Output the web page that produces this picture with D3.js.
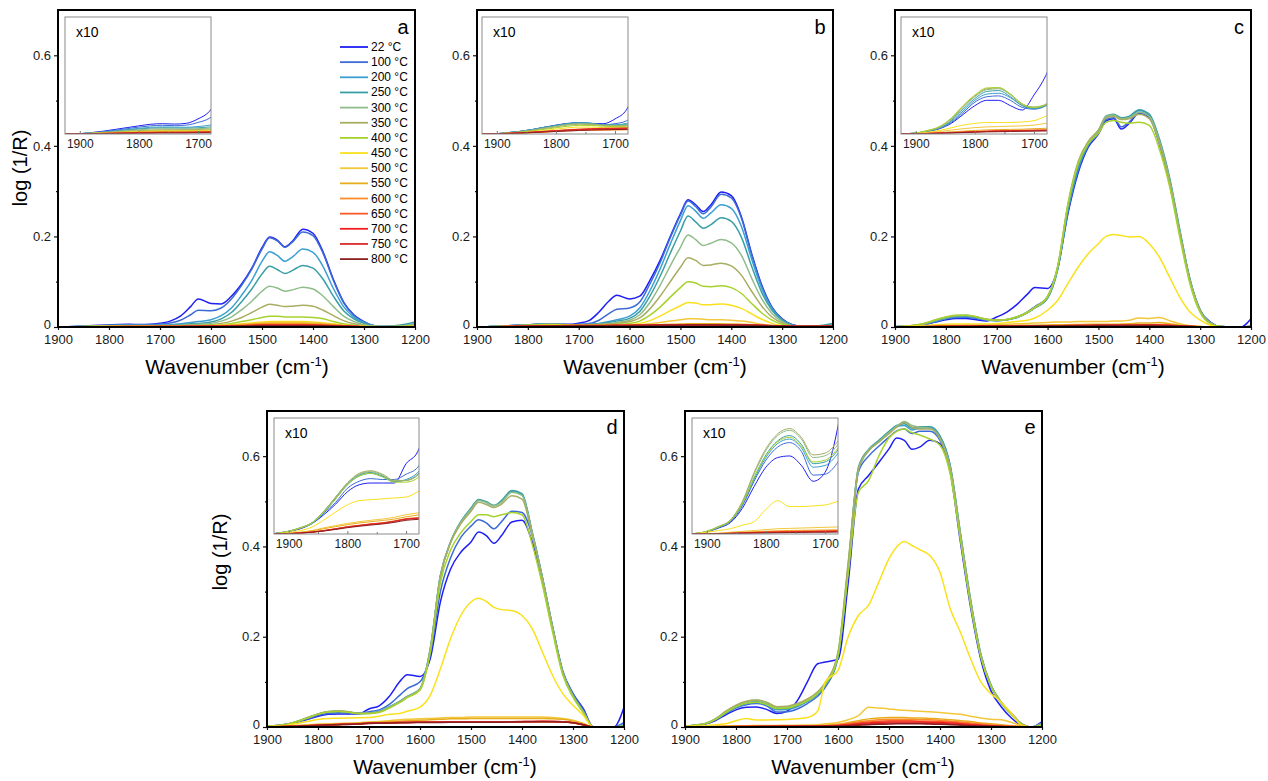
<!DOCTYPE html>
<html>
<head>
<meta charset="utf-8">
<script src="https://cdn.jsdelivr.net/npm/d3@7"></script>
<style>
  body { margin: 0; background: #fff; }
  text { font-family: Arial, "Liberation Sans", sans-serif; }
</style>
</head>
<body>
<svg id="chart" width="1268" height="781"></svg>
<script>
// wavenumber grid (cm-1) shared by every spectrum
const wavenumbers = [1930, 1900, 1880, 1860, 1840, 1820, 1800, 1780, 1760, 1740, 1720, 1700, 1680, 1660, 1640, 1625,
    1600, 1580, 1560, 1540, 1520, 1500, 1485, 1470, 1455, 1440, 1420, 1400, 1380, 1360, 1340, 1320, 1300, 1280, 1260, 1240, 1220, 1200];
const temperatures = ['22 °C', '100 °C', '200 °C', '250 °C', '300 °C', '350 °C', '400 °C', '450 °C',
    '500 °C', '550 °C', '600 °C', '650 °C', '700 °C', '750 °C', '800 °C'];
const seriesColors = ['#1f1ff5', '#3d6bd6', '#3b9fd2', '#3a9fa5', '#8fbd8a', '#a8ad62', '#a6d22e', '#f9e11d',
    '#f3c73a', '#e8ad1e', '#fb8c2a', '#fa5a2a', '#f21e1e', '#dc2a2a', '#8c1f1f'];

// panel a
const a22 = [0, .0002, .0008, .0016, .0026, .0036, .0046, .0055, .0058, .0056, .006, .0085, .013, .024, .045, .062, .052, .051, .068, .095, .13, .175, .199, .192, .177, .19, .216, .207, .165, .105, .055, .027, .012, .003, .001, .001, .002, .003];
const a100 = [0, .0002, .0007, .0013, .0021, .003, .0039, .0046, .0049, .0047, .005, .0065, .009, .015, .027, .037, .036, .042, .062, .092, .128, .172, .197, .19, .176, .188, .21, .202, .162, .103, .054, .026, .011, .003, .001, .001, .002, .003];
const a200 = [0, .0002, .0006, .0011, .0018, .0025, .0032, .0038, .004, .0039, .0038, .0042, .005, .007, .01, .012, .016, .025, .042, .07, .103, .145, .166, .158, .145, .155, .172, .165, .133, .085, .045, .022, .01, .003, .001, .002, .004, .007];
const a250 = [0, .0002, .0006, .001, .0016, .0022, .0028, .0033, .0035, .0034, .0033, .0035, .004, .005, .007, .008, .011, .018, .032, .056, .084, .117, .134, .127, .118, .125, .136, .13, .105, .068, .036, .018, .008, .002, .001, .003, .006, .011];
const a300 = [0, .0002, .0005, .0009, .0014, .0019, .0024, .0028, .003, .0029, .0028, .003, .0033, .004, .005, .006, .008, .013, .022, .038, .057, .079, .09, .086, .079, .082, .088, .084, .068, .045, .024, .012, .005, .002, .001, .001, .003, .006];
const a350 = [0, .0002, .0004, .0007, .0011, .0015, .0019, .0022, .0024, .0024, .0024, .0025, .0028, .003, .004, .004, .005, .008, .013, .021, .032, .044, .05, .048, .045, .046, .048, .046, .037, .025, .014, .007, .003, .001, .001, .001, .002, .004];
const a400 = [0, .0001, .0003, .0006, .0009, .0012, .0015, .0018, .0019, .0019, .0019, .002, .0022, .0025, .003, .003, .004, .005, .008, .012, .016, .021, .024, .024, .022, .022, .022, .021, .018, .012, .007, .004, .002, .001, 0, .001, .001, .002];
const a450 = [0, .0001, .0003, .0005, .0008, .001, .0013, .0015, .0016, .0016, .0016, .0017, .0018, .002, .002, .002, .003, .004, .005, .007, .009, .011, .012, .012, .012, .012, .012, .011, .009, .007, .004, .002, .001, 0, 0, 0, .001, .001];
const a500 = [0, .0001, .0003, .0005, .0007, .0009, .0012, .0014, .0015, .0015, .0015, .0016, .0017, .0018, .002, .002, .003, .003, .004, .006, .007, .009, .01, .01, .01, .01, .01, .009, .008, .006, .004, .002, .001, 0, 0, 0, 0, .001];
const a550 = [0, .0001, .0002, .0004, .0006, .0008, .001, .0012, .0013, .0013, .0013, .0014, .0015, .0016, .0018, .002, .002, .003, .004, .005, .006, .007, .008, .008, .008, .008, .008, .007, .006, .005, .003, .002, .001, 0, 0, 0, 0, 0];
const a600 = [0, .0001, .0002, .0004, .0005, .0007, .0009, .001, .0011, .0011, .0011, .0012, .0013, .0014, .0015, .0016, .0018, .002, .003, .004, .005, .006, .006, .006, .006, .006, .006, .005, .005, .004, .003, .002, .001, 0, 0, 0, 0, 0];
const a650 = [0, .0001, .0002, .0003, .0005, .0006, .0008, .0009, .001, .001, .001, .0011, .0012, .0013, .0014, .0015, .0017, .002, .0025, .003, .004, .0045, .005, .005, .005, .005, .005, .0045, .004, .003, .002, .0012, .0006, 0, 0, 0, 0, 0];
const a700 = [0, .0001, .0002, .0003, .0004, .0005, .0007, .0008, .0009, .0009, .0009, .001, .0011, .0012, .0013, .0014, .0015, .0018, .0022, .0027, .0032, .0038, .004, .004, .004, .004, .004, .0037, .0032, .0026, .0018, .001, .0005, 0, 0, 0, 0, 0];
const a750 = [0, .0001, .0002, .0003, .0004, .0005, .0006, .0007, .0008, .0008, .0008, .0009, .001, .0011, .0012, .0013, .0014, .0017, .002, .0025, .003, .0035, .0038, .0038, .0038, .0038, .0038, .0035, .003, .0025, .0018, .001, .0005, 0, 0, 0, 0, 0];
const a800 = [0, .0001, .0001, .0002, .0003, .0004, .0005, .0005, .0006, .0006, .0006, .0007, .0007, .0008, .0009, .001, .0011, .0013, .0016, .002, .0024, .0028, .003, .003, .003, .003, .003, .0028, .0025, .002, .0015, .001, .0005, 0, 0, 0, 0, 0];

// panel b
const b22 = [0, .0002, .0008, .0015, .0025, .0038, .005, .006, .0064, .006, .0058, .0085, .014, .033, .058, .07, .062, .068, .103, .147, .2, .25, .281, .27, .255, .27, .298, .29, .243, .162, .092, .044, .018, .005, .001, .001, .002, .004];
const b100 = [0, .0002, .0008, .0015, .0025, .0037, .0048, .0058, .0062, .0058, .0052, .0058, .0075, .015, .03, .039, .042, .055, .095, .142, .197, .247, .278, .266, .25, .265, .293, .285, .24, .16, .09, .043, .017, .005, .001, .001, .002, .004];
const b200 = [0, .0002, .0008, .0015, .0025, .0037, .0048, .0058, .0063, .006, .0052, .0052, .006, .008, .012, .016, .024, .042, .08, .128, .183, .235, .268, .256, .24, .252, .27, .262, .222, .15, .085, .041, .016, .004, .001, .001, .002, .005];
const b250 = [0, .0002, .0008, .0015, .0025, .0037, .0048, .0058, .0063, .006, .0052, .005, .0055, .007, .01, .013, .019, .034, .068, .112, .163, .212, .245, .232, .218, .226, .241, .233, .198, .134, .076, .037, .015, .004, .001, .002, .004, .008];
const b300 = [0, .0002, .0007, .0013, .0022, .0033, .0044, .0054, .0059, .0056, .005, .0048, .005, .006, .008, .01, .015, .027, .054, .092, .135, .176, .203, .193, .18, .185, .193, .186, .158, .108, .062, .03, .012, .003, .001, .001, .002, .004];
const b350 = [0, .0002, .0006, .0012, .002, .003, .004, .005, .0055, .0053, .0048, .0045, .0047, .005, .007, .008, .012, .02, .04, .068, .1, .132, .153, .147, .136, .137, .141, .135, .114, .079, .046, .022, .009, .002, .001, .001, .002, .003];
const b400 = [0, .0002, .0005, .001, .0017, .0026, .0035, .0044, .0049, .0048, .0044, .0042, .0043, .0045, .005, .006, .008, .013, .026, .044, .066, .087, .1, .097, .09, .089, .091, .087, .074, .052, .031, .015, .006, .002, .001, .001, .001, .002];
const b450 = [0, .0002, .0004, .0008, .0013, .002, .0028, .0035, .0039, .0039, .0036, .0035, .0036, .0038, .004, .004, .005, .008, .014, .024, .036, .047, .054, .053, .049, .049, .051, .048, .041, .029, .017, .008, .003, .001, 0, 0, .001, .001];
const b500 = [0, .0001, .0003, .0006, .001, .0015, .002, .0025, .0028, .0028, .0027, .0027, .0028, .003, .003, .003, .004, .005, .007, .01, .013, .016, .018, .018, .017, .016, .016, .015, .013, .01, .006, .003, .001, 0, 0, 0, 0, .001];
const b550 = [0, .0001, .0003, .0005, .0008, .0012, .0016, .002, .0023, .0024, .0023, .0024, .0025, .0026, .0028, .003, .003, .0035, .004, .005, .006, .0065, .007, .007, .007, .007, .007, .0065, .006, .005, .003, .002, .001, 0, 0, 0, 0, 0];
const b600 = [0, .0001, .0003, .0005, .0008, .0011, .0015, .0018, .002, .0022, .0022, .0023, .0024, .0025, .0027, .0028, .003, .0032, .0035, .004, .0045, .005, .005, .005, .005, .005, .005, .0048, .0045, .004, .003, .002, .001, 0, 0, 0, 0, 0];
const b650 = [0, .0001, .0003, .0006, .0009, .0013, .0017, .002, .0023, .0025, .0026, .0027, .0028, .003, .003, .0032, .0034, .0036, .0038, .004, .0042, .0045, .0046, .0046, .0046, .0046, .0046, .0045, .0043, .004, .0035, .0025, .0015, .0005, 0, 0, 0, .001];
const b700 = [0, .0002, .0004, .0007, .001, .0014, .0018, .0022, .0025, .0028, .003, .0031, .0032, .0034, .0035, .0036, .0037, .0038, .004, .0042, .0044, .0046, .0047, .0047, .0047, .0047, .0046, .0045, .0043, .004, .0036, .003, .0025, .002, .0015, .0015, .002, .0025];
const b750 = [0, .0002, .0004, .0007, .0011, .0015, .0019, .0023, .0027, .003, .0032, .0033, .0034, .0035, .0036, .0037, .0038, .004, .0042, .0044, .0046, .0048, .005, .005, .005, .005, .0049, .0047, .0045, .0042, .0038, .0032, .0026, .002, .0016, .0015, .0018, .0022];
const b800 = [0, .0001, .0003, .0005, .0008, .0011, .0014, .0017, .002, .0022, .0024, .0025, .0026, .0027, .0028, .0029, .003, .0032, .0034, .0036, .0038, .004, .0042, .0042, .0042, .0042, .0041, .004, .0038, .0035, .003, .0025, .002, .0015, .001, .001, .001, .0012];

// panel c
const c22 = [0, .0005, .0015, .003, .006, .011, .016, .019, .019, .016, .0135, .022, .033, .05, .072, .087, .085, .13, .25, .34, .397, .426, .455, .46, .437, .449, .472, .463, .404, .316, .206, .103, .037, .011, .001, 0, 0, .018];
const c100 = [0, .0005, .0015, .003, .0065, .012, .018, .021, .0215, .019, .015, .014, .016, .022, .033, .045, .066, .13, .255, .345, .4, .428, .458, .462, .442, .452, .474, .465, .407, .32, .208, .102, .036, .009, .001, 0, 0, .002];
const c200 = [0, .0005, .0016, .0033, .007, .013, .019, .0225, .023, .0205, .016, .0145, .016, .021, .031, .042, .064, .128, .258, .35, .402, .43, .462, .468, .46, .462, .478, .468, .41, .325, .212, .104, .037, .009, .001, 0, 0, .001];
const c250 = [0, .0005, .0017, .0035, .0075, .014, .02, .024, .0245, .021, .016, .0145, .016, .021, .031, .042, .064, .128, .26, .352, .404, .432, .466, .47, .462, .465, .48, .47, .415, .33, .215, .106, .038, .01, .001, 0, 0, .001];
const c300 = [0, .0005, .0018, .0037, .008, .015, .021, .025, .0255, .022, .0165, .015, .0165, .022, .032, .043, .066, .132, .268, .36, .408, .434, .465, .468, .46, .462, .474, .465, .41, .325, .21, .104, .037, .009, .001, 0, 0, .001];
const c350 = [0, .0005, .0019, .004, .0085, .0155, .0215, .0255, .026, .0225, .017, .0152, .0168, .0225, .033, .044, .068, .135, .272, .365, .41, .435, .462, .465, .458, .46, .47, .46, .405, .32, .206, .1, .035, .008, .001, 0, 0, .001];
const c400 = [0, .0006, .002, .0042, .009, .016, .022, .026, .0262, .0225, .017, .015, .0165, .022, .032, .043, .067, .134, .27, .36, .405, .428, .452, .456, .452, .45, .452, .445, .392, .31, .198, .095, .032, .007, .001, 0, 0, .001];
const c450 = [0, .0003, .001, .002, .0035, .005, .006, .0065, .0065, .0065, .0068, .0075, .01, .012, .015, .02, .037, .059, .096, .132, .162, .184, .2, .204, .202, .199, .2, .184, .154, .11, .066, .033, .015, .004, 0, 0, 0, 0];
const c500 = [0, .0002, .0007, .0014, .0022, .003, .0036, .004, .0042, .0044, .0046, .005, .006, .007, .008, .009, .01, .011, .011, .012, .012, .012, .012, .013, .013, .015, .02, .019, .021, .014, .007, .003, .001, 0, 0, 0, 0, 0];
const c550 = [0, .0001, .0004, .0008, .0012, .0016, .002, .0023, .0025, .0026, .0027, .003, .0032, .0035, .004, .004, .0045, .005, .005, .0055, .006, .006, .006, .006, .0065, .007, .009, .009, .01, .007, .004, .002, .001, 0, 0, 0, 0, 0];
const c600 = [0, .0001, .0003, .0006, .0009, .0012, .0015, .0017, .0019, .002, .0021, .0022, .0023, .0025, .0027, .0028, .003, .0032, .0034, .0036, .0038, .004, .004, .004, .004, .004, .0045, .005, .0055, .0045, .003, .0015, .0007, 0, 0, 0, 0, 0];
const c650 = [0, .0001, .0003, .0005, .0008, .001, .0013, .0015, .0017, .0018, .0019, .002, .0021, .0022, .0024, .0025, .0027, .0029, .0031, .0033, .0035, .0036, .0037, .0037, .0037, .0037, .004, .0042, .0045, .0038, .0026, .0014, .0006, 0, 0, 0, 0, 0];
const c700 = [0, .0001, .0003, .0005, .0007, .0009, .0012, .0014, .0016, .0017, .0018, .0019, .002, .0021, .0022, .0023, .0025, .0027, .0029, .0031, .0033, .0034, .0035, .0035, .0035, .0035, .0036, .0037, .0038, .0033, .0024, .0013, .0005, 0, 0, 0, 0, 0];
const c750 = [0, .0001, .0003, .0005, .0008, .001, .0013, .0015, .0017, .0019, .002, .0021, .0022, .0023, .0024, .0025, .0027, .0029, .0031, .0033, .0035, .0036, .0037, .0037, .0037, .0037, .0037, .0037, .0036, .0032, .0024, .0014, .0006, 0, 0, 0, 0, 0];
const c800 = [0, .0001, .0002, .0004, .0006, .0008, .001, .0012, .0013, .0014, .0015, .0016, .0017, .0018, .0019, .002, .0022, .0024, .0026, .0028, .003, .0031, .0032, .0032, .0032, .0032, .0032, .0031, .003, .0027, .002, .0012, .0005, 0, 0, 0, 0, 0];

// panel d
const d22 = [0, .0015, .003, .006, .011, .017, .024, .028, .029, .029, .029, .04, .047, .068, .1, .116, .112, .151, .277, .35, .387, .41, .432, .424, .407, .424, .454, .458, .41, .321, .218, .122, .074, .041, 0, 0, 0, .044];
const d100 = [0, .0015, .0032, .0065, .012, .018, .026, .03, .0315, .031, .031, .034, .038, .05, .07, .085, .1, .16, .3, .375, .42, .445, .459, .452, .439, .455, .478, .475, .425, .33, .222, .124, .074, .038, 0, 0, 0, .01];
const d200 = [0, .0015, .0034, .006, .012, .02, .028, .033, .0345, .0325, .0297, .031, .035, .045, .057, .068, .085, .173, .336, .41, .454, .483, .503, .498, .49, .5, .522, .515, .43, .33, .22, .12, .07, .035, 0, 0, 0, .005];
const d250 = [0, .0015, .0035, .0062, .0125, .0205, .0285, .0335, .035, .033, .03, .0305, .034, .044, .056, .067, .084, .17, .334, .41, .455, .485, .504, .499, .491, .502, .524, .517, .432, .332, .222, .121, .07, .034, 0, 0, 0, .003];
const d300 = [0, .0016, .0036, .0064, .013, .021, .029, .034, .0355, .0335, .0302, .0305, .0338, .044, .056, .067, .084, .172, .336, .41, .453, .482, .502, .497, .49, .498, .52, .513, .43, .33, .22, .12, .069, .034, 0, 0, 0, .002];
const d350 = [0, .0016, .0036, .0065, .013, .021, .029, .0345, .036, .034, .0305, .0305, .0335, .043, .055, .066, .083, .17, .333, .408, .45, .478, .498, .493, .486, .494, .512, .505, .425, .327, .218, .119, .068, .033, 0, 0, 0, .002];
const d400 = [0, .0015, .0034, .0063, .0125, .02, .028, .033, .0345, .0325, .0295, .0295, .032, .042, .054, .065, .082, .165, .32, .392, .43, .455, .47, .47, .466, .47, .475, .47, .405, .315, .21, .115, .066, .032, 0, 0, 0, .002];
const d450 = [0, .0008, .002, .004, .008, .0125, .0166, .019, .0195, .02, .0205, .021, .024, .028, .03, .035, .044, .07, .129, .196, .247, .277, .285, .278, .265, .26, .258, .247, .218, .166, .114, .074, .048, .026, 0, 0, 0, 0];
const d500 = [0, .0004, .001, .002, .0035, .0048, .006, .007, .0078, .0085, .0095, .011, .012, .014, .016, .017, .018, .019, .02, .021, .021, .022, .022, .022, .022, .022, .022, .022, .022, .022, .021, .019, .015, .008, 0, 0, 0, 0];
const d550 = [0, .0003, .0009, .0018, .003, .0042, .0053, .0063, .007, .0077, .0085, .0098, .0108, .012, .013, .014, .015, .016, .017, .018, .018, .019, .019, .019, .019, .019, .019, .019, .019, .019, .018, .017, .013, .007, 0, 0, 0, 0];
const d600 = [0, .0002, .0006, .0012, .002, .003, .0042, .005, .0058, .0064, .0075, .0088, .0093, .0098, .0102, .0105, .0108, .011, .0112, .0114, .0115, .0116, .0117, .0118, .0118, .0118, .0118, .0118, .0118, .0117, .0115, .011, .009, .005, 0, 0, 0, 0];
const d650 = [0, .0002, .0006, .0012, .002, .003, .0041, .0049, .0057, .0063, .0073, .0086, .0091, .0096, .01, .0103, .0106, .0108, .011, .0112, .0113, .0114, .0115, .0116, .0116, .0116, .0117, .0118, .0119, .012, .012, .0115, .0095, .005, 0, 0, 0, 0];
const d700 = [0, .0002, .0006, .0011, .0019, .0029, .004, .0048, .0056, .0062, .0072, .0085, .009, .0095, .0099, .0102, .0105, .0107, .0109, .011, .0111, .0112, .0113, .0114, .0114, .0115, .0117, .012, .0123, .0125, .0124, .0118, .0097, .0052, 0, 0, 0, 0];
const d750 = [0, .0002, .0005, .001, .0018, .0028, .0039, .0047, .0055, .0061, .0071, .0084, .0089, .0094, .0098, .0101, .0104, .0106, .0108, .0109, .011, .0111, .0112, .0113, .0113, .0114, .0116, .0119, .0122, .0124, .0123, .0117, .0096, .0051, 0, 0, 0, 0];
const d800 = [0, .0002, .0005, .001, .0017, .0026, .0036, .0044, .0051, .0057, .0066, .0078, .0083, .0088, .0092, .0095, .0098, .01, .0102, .0103, .0104, .0105, .0106, .0107, .0107, .0108, .011, .0113, .0116, .0118, .0117, .0112, .0092, .0048, 0, 0, 0, 0];

// panel e
const e22 = [0, .0012, .0034, .0065, .0145, .027, .038, .0435, .0444, .039, .03, .035, .058, .1, .14, .144, .15, .32, .527, .557, .586, .616, .64, .635, .615, .62, .635, .627, .565, .41, .265, .15, .08, .045, .02, .004, 0, .012];
const e100 = [0, .0013, .0037, .007, .0158, .03, .042, .0495, .052, .047, .0335, .034, .04, .052, .068, .088, .155, .35, .565, .6, .622, .642, .656, .66, .65, .655, .655, .635, .57, .42, .275, .158, .09, .053, .028, .006, 0, .01];
const e200 = [0, .0014, .0039, .0073, .0165, .031, .0435, .0515, .054, .049, .038, .039, .045, .056, .072, .092, .156, .35, .57, .612, .632, .652, .665, .668, .658, .662, .663, .643, .578, .428, .28, .16, .092, .054, .029, .007, 0, .008];
const e250 = [0, .0014, .004, .0075, .017, .032, .045, .053, .056, .051, .04, .041, .047, .058, .074, .094, .16, .355, .575, .615, .635, .655, .668, .672, .662, .665, .665, .645, .58, .43, .282, .162, .093, .055, .03, .007, 0, .008];
const e300 = [0, .0015, .0042, .0078, .018, .034, .0475, .056, .059, .054, .0435, .0445, .05, .06, .076, .096, .164, .36, .57, .612, .632, .652, .666, .677, .668, .664, .662, .64, .575, .428, .28, .16, .092, .055, .03, .007, 0, .006];
const e350 = [0, .0015, .0043, .008, .0184, .035, .0485, .057, .06, .055, .045, .046, .052, .062, .078, .098, .166, .365, .572, .613, .631, .65, .664, .675, .664, .66, .66, .638, .572, .424, .277, .159, .092, .055, .03, .007, 0, .007];
const e400 = [0, .0015, .004, .0075, .017, .032, .0445, .0525, .055, .05, .041, .042, .048, .058, .074, .094, .158, .34, .52, .546, .6, .64, .655, .66, .652, .647, .638, .624, .56, .415, .27, .155, .09, .053, .028, .006, 0, .005];
const e450 = [0, .001, .002, .003, .005, .007, .014, .019, .0156, .0156, .016, .0165, .0184, .021, .035, .1, .125, .2, .247, .27, .321, .373, .399, .411, .402, .393, .38, .343, .262, .21, .151, .1, .074, .055, .03, .004, 0, 0];
const e500 = [0, .0002, .0005, .001, .0015, .002, .0025, .003, .0032, .0034, .0036, .0038, .004, .0045, .005, .007, .01, .016, .025, .044, .042, .04, .038, .037, .036, .035, .034, .032, .03, .028, .024, .02, .017, .016, .01, .003, 0, 0];
const e550 = [0, .0001, .0003, .0006, .001, .0013, .0016, .0018, .002, .0021, .0022, .0023, .0024, .0026, .003, .004, .006, .01, .014, .018, .02, .021, .021, .021, .02, .02, .019, .018, .016, .014, .012, .009, .007, .005, .003, .001, 0, 0];
const e600 = [0, .0001, .0003, .0005, .0008, .001, .0013, .0015, .0016, .0017, .0018, .0019, .002, .0022, .0025, .003, .005, .008, .011, .014, .016, .017, .017, .017, .017, .016, .016, .015, .013, .011, .009, .007, .005, .003, .002, .001, 0, 0];
const e650 = [0, .0001, .0002, .0004, .0007, .0009, .0011, .0013, .0014, .0015, .0016, .0017, .0018, .002, .0022, .0025, .004, .006, .009, .011, .013, .014, .014, .014, .014, .013, .013, .012, .011, .009, .007, .005, .003, .002, .001, 0, 0, 0];
const e700 = [0, .0001, .0002, .0004, .0006, .0008, .001, .0011, .0012, .0013, .0014, .0015, .0016, .0017, .0019, .002, .003, .005, .007, .009, .01, .011, .011, .011, .011, .011, .01, .01, .009, .007, .005, .004, .002, .001, .001, 0, 0, 0];
const e750 = [0, .0001, .0002, .0003, .0005, .0007, .0008, .0009, .001, .0011, .0012, .0013, .0014, .0015, .0016, .0018, .0025, .004, .006, .007, .008, .009, .009, .009, .009, .009, .008, .008, .007, .006, .004, .003, .002, .001, 0, 0, 0, 0];
const e800 = [0, .0001, .0002, .0003, .0004, .0005, .0006, .0007, .0008, .0009, .001, .001, .0011, .0012, .0013, .0014, .002, .003, .004, .005, .006, .0065, .007, .007, .007, .007, .0065, .006, .005, .004, .003, .002, .0015, .001, 0, 0, 0, 0];

const mainTicks = [0, 0.2, 0.4, 0.6];
const mainMinorTicks = [0.1, 0.3, 0.5];
const wavenumberTicks = [1900, 1800, 1700, 1600, 1500, 1400, 1300, 1200];
const insetTicks = [1900, 1800, 1700];
const insetMinorTicks = [1850, 1750];

const panels = [
    { letter: 'a', series: [a22, a100, a200, a250, a300, a350, a400, a450, a500, a550, a600, a650, a700, a750, a800],
      left: 58, right: 415, top: 10, bottom: 327, inset: [65, 211, 17, 134], letterPos: [403, 27],
      yTitle: [20, 168], xTitle: [237, 374], legend: true },
    { letter: 'b', series: [b22, b100, b200, b250, b300, b350, b400, b450, b500, b550, b600, b650, b700, b750, b800],
      left: 477, right: 833, top: 10, bottom: 327, inset: [482, 628, 17, 134], letterPos: [820, 27],
      xTitle: [655, 374] },
    { letter: 'c', series: [c22, c100, c200, c250, c300, c350, c400, c450, c500, c550, c600, c650, c700, c750, c800],
      left: 895, right: 1251, top: 10, bottom: 327, inset: [901, 1047, 17, 134], letterPos: [1239, 27],
      xTitle: [1073, 374] },
    { letter: 'd', series: [d22, d100, d200, d250, d300, d350, d400, d450, d500, d550, d600, d650, d700, d750, d800],
      left: 267, right: 624, top: 411, bottom: 727, inset: [274, 419, 418, 534], letterPos: [612, 427],
      yTitle: [220, 552], xTitle: [445, 774] },
    { letter: 'e', series: [e22, e100, e200, e250, e300, e350, e400, e450, e500, e550, e600, e650, e700, e750, e800],
      left: 685, right: 1042, top: 411, bottom: 727, inset: [692, 838, 418, 534], letterPos: [1030, 427],
      xTitle: [863, 774] }
];

const svg = d3.select('#chart');

const toPoints = values => wavenumbers.map((w, i) => [w, values[i]]).filter(d => d[1] !== undefined);

panels.forEach(p => {
    const g = svg.append('g').attr('class', `panel-${p.letter}`);
    const x = d3.scaleLinear().domain([1900, 1200]).range([p.left, p.right]);
    const y = d3.scaleLinear().domain([0, 0.7]).range([p.bottom, p.top]);

    const clipId = `clip-${p.letter}`;
    svg.append('clipPath').attr('id', clipId)
        .append('rect')
        .attr('x', p.left).attr('y', p.top)
        .attr('width', p.right - p.left).attr('height', p.bottom - p.top);

    const line = d3.line()
        .x(d => x(d[0]))
        .y(d => y(d[1]))
        .curve(d3.curveMonotoneX);

    g.append('g')
        .attr('clip-path', `url(#${clipId})`)
        .selectAll('path')
        .data(p.series)
        .join('path')
        .attr('d', d => line(toPoints(d)))
        .attr('fill', 'none')
        .attr('stroke', (d, i) => seriesColors[i])
        .attr('stroke-width', 1.5);

    // axes
    const xAxis = g.append('g')
        .attr('transform', `translate(0,${p.bottom})`)
        .call(d3.axisBottom(x).tickValues(wavenumberTicks).tickSize(3).tickPadding(5).tickFormat(d3.format('d')));
    const yAxis = g.append('g')
        .attr('transform', `translate(${p.left},0)`)
        .call(d3.axisLeft(y).tickValues(mainTicks).tickSize(4).tickPadding(3)
            .tickFormat(d => d === 0 ? '0' : d3.format('.1f')(d)));
    g.append('g')
        .attr('transform', `translate(${p.left},0)`)
        .call(d3.axisLeft(y).tickValues(mainMinorTicks).tickSize(2).tickFormat(''))
        .select('.domain').remove();
    [xAxis, yAxis].forEach(ax => {
        ax.select('.domain').remove();
        ax.selectAll('text').attr('font-size', 13).attr('fill', '#1a1a1a');
    });
    // lift the "0" label a little so it clears the 1900 label below it
    yAxis.selectAll('.tick text').filter(d => d === 0).attr('dy', '0.1em');
    g.selectAll('.tick line').attr('stroke', '#111').attr('stroke-width', 1.2);

    g.append('rect')
        .attr('x', p.left).attr('y', p.top)
        .attr('width', p.right - p.left).attr('height', p.bottom - p.top)
        .attr('fill', 'none')
        .attr('stroke', '#000')
        .attr('stroke-width', 2);

    // inset (x10)
    const [il, ir, it, ib] = p.inset;
    const ix = d3.scaleLinear().domain([1925, 1678]).range([il, ir]);
    const iy = d3.scaleLinear().domain([0, 0.066]).range([ib, it]);
    const insetClip = `inset-clip-${p.letter}`;
    svg.append('clipPath').attr('id', insetClip)
        .append('rect')
        .attr('x', il).attr('y', it).attr('width', ir - il).attr('height', ib - it);
    g.append('rect')
        .attr('x', il).attr('y', it).attr('width', ir - il).attr('height', ib - it)
        .attr('fill', '#fff');
    const insetLine = d3.line()
        .x(d => ix(d[0]))
        .y(d => iy(d[1]))
        .curve(d3.curveMonotoneX);
    g.append('g')
        .attr('clip-path', `url(#${insetClip})`)
        .selectAll('path')
        .data(p.series)
        .join('path')
        .attr('d', d => insetLine(toPoints(d).filter(v => v[0] >= 1660)))
        .attr('fill', 'none')
        .attr('stroke', (d, i) => seriesColors[i])
        .attr('stroke-width', 1);
    const insetAxis = g.append('g')
        .attr('transform', `translate(0,${ib})`)
        .call(d3.axisBottom(ix).tickValues(insetTicks).tickSizeInner(-3).tickSizeOuter(0).tickPadding(5)
            .tickFormat(d3.format('d')));
    insetAxis.select('.domain').remove();
    insetAxis.selectAll('text').attr('font-size', 12).attr('fill', '#1a1a1a');
    insetAxis.selectAll('.tick line').attr('stroke', '#777');
    g.append('g')
        .attr('transform', `translate(0,${ib})`)
        .call(d3.axisBottom(ix).tickValues(insetMinorTicks).tickSizeInner(-2).tickSizeOuter(0).tickFormat(''))
        .call(ax => ax.select('.domain').remove())
        .selectAll('.tick line').attr('stroke', '#777');
    g.append('rect')
        .attr('x', il).attr('y', it).attr('width', ir - il).attr('height', ib - it)
        .attr('fill', 'none')
        .attr('stroke', '#8a8a8a')
        .attr('stroke-width', 1);
    g.append('text')
        .attr('x', il + 11).attr('y', it + 20)
        .attr('font-size', 14)
        .text('x10');

    g.append('text')
        .attr('x', p.letterPos[0]).attr('y', p.letterPos[1])
        .attr('text-anchor', 'middle')
        .attr('dominant-baseline', 'central')
        .attr('font-size', 20)
        .text(p.letter);

    const xt = g.append('text')
        .attr('x', p.xTitle[0]).attr('y', p.xTitle[1])
        .attr('text-anchor', 'middle')
        .attr('font-size', 21);
    xt.append('tspan').text('Wavenumber (cm');
    xt.append('tspan').attr('dy', -8).attr('font-size', 13).text('-1');
    xt.append('tspan').attr('dy', 8).text(')');

    if (p.yTitle) {
        g.append('text')
            .attr('transform', `translate(${p.yTitle[0]},${p.yTitle[1]}) rotate(-90)`)
            .attr('text-anchor', 'middle')
            .attr('dominant-baseline', 'central')
            .attr('font-size', 20)
            .text('log (1/R)');
    }

    if (p.legend) {
        const legend = g.append('g').attr('class', 'legend');
        const rows = legend.selectAll('g')
            .data(temperatures)
            .join('g')
            .attr('transform', (d, i) => `translate(340,${47 + i * 15.15})`);
        rows.append('line')
            .attr('x1', 0).attr('x2', 28)
            .attr('stroke', (d, i) => seriesColors[i])
            .attr('stroke-width', 1.8);
        rows.append('text')
            .attr('x', 31)
            .attr('dominant-baseline', 'central')
            .attr('font-size', 12)
            .text(d => d);
    }
});
</script>
</body>
</html>
